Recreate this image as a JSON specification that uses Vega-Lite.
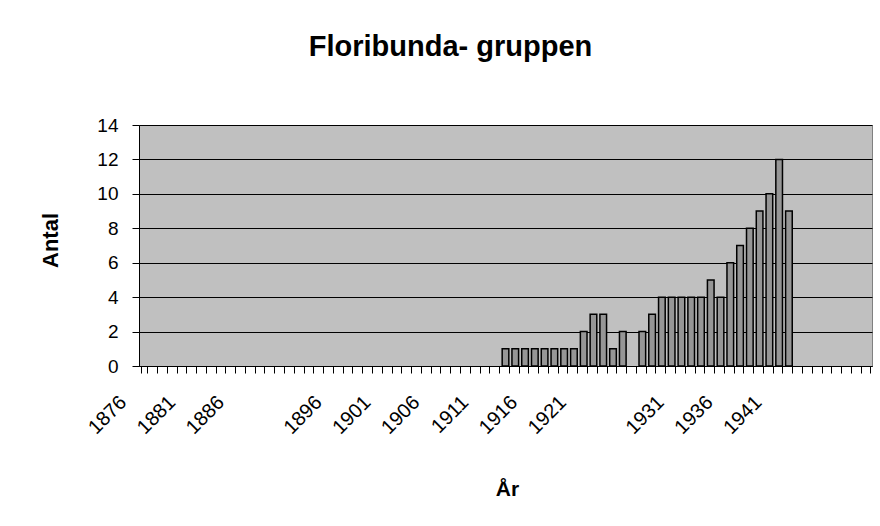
{
  "$schema": "https://vega.github.io/schema/vega-lite/v6.json",
  "autosize": {"type": "none"},
  "width": 733,
  "height": 241,
  "padding": {"left": 139, "top": 125, "right": 8, "bottom": 160},
  "background": "white",
  "title": {
    "text": "Floribunda- gruppen",
    "font": "Liberation Sans",
    "fontSize": 29,
    "fontWeight": "bold",
    "color": "black",
    "anchor": "middle",
    "frame": "group",
    "dx": -55,
    "offset": 54
  },
  "config": {
    "view": {"fill": "#C0C0C0", "stroke": "#808080", "strokeWidth": 1},
    "axis": {
      "labelFont": "Liberation Sans",
      "titleFont": "Liberation Sans",
      "labelColor": "black",
      "titleColor": "black",
      "domainColor": "black",
      "tickColor": "black",
      "gridColor": "black",
      "gridOpacity": 1
    }
  },
  "data": {
    "values": [
      {"year": 1876, "antal": 0}, {"year": 1877, "antal": 0}, {"year": 1878, "antal": 0}, {"year": 1879, "antal": 0},
      {"year": 1880, "antal": 0}, {"year": 1881, "antal": 0}, {"year": 1882, "antal": 0}, {"year": 1883, "antal": 0},
      {"year": 1884, "antal": 0}, {"year": 1885, "antal": 0}, {"year": 1886, "antal": 0}, {"year": 1887, "antal": 0},
      {"year": 1888, "antal": 0}, {"year": 1889, "antal": 0}, {"year": 1890, "antal": 0}, {"year": 1891, "antal": 0},
      {"year": 1892, "antal": 0}, {"year": 1893, "antal": 0}, {"year": 1894, "antal": 0}, {"year": 1895, "antal": 0},
      {"year": 1896, "antal": 0}, {"year": 1897, "antal": 0}, {"year": 1898, "antal": 0}, {"year": 1899, "antal": 0},
      {"year": 1900, "antal": 0}, {"year": 1901, "antal": 0}, {"year": 1902, "antal": 0}, {"year": 1903, "antal": 0},
      {"year": 1904, "antal": 0}, {"year": 1905, "antal": 0}, {"year": 1906, "antal": 0}, {"year": 1907, "antal": 0},
      {"year": 1908, "antal": 0}, {"year": 1909, "antal": 0}, {"year": 1910, "antal": 0}, {"year": 1911, "antal": 0},
      {"year": 1912, "antal": 0}, {"year": 1913, "antal": 1}, {"year": 1914, "antal": 1}, {"year": 1915, "antal": 1},
      {"year": 1916, "antal": 1}, {"year": 1917, "antal": 1}, {"year": 1918, "antal": 1}, {"year": 1919, "antal": 1},
      {"year": 1920, "antal": 1}, {"year": 1921, "antal": 2}, {"year": 1922, "antal": 3}, {"year": 1923, "antal": 3},
      {"year": 1924, "antal": 1}, {"year": 1925, "antal": 2}, {"year": 1926, "antal": 0}, {"year": 1927, "antal": 2},
      {"year": 1928, "antal": 3}, {"year": 1929, "antal": 4}, {"year": 1930, "antal": 4}, {"year": 1931, "antal": 4},
      {"year": 1932, "antal": 4}, {"year": 1933, "antal": 4}, {"year": 1934, "antal": 5}, {"year": 1935, "antal": 4},
      {"year": 1936, "antal": 6}, {"year": 1937, "antal": 7}, {"year": 1938, "antal": 8}, {"year": 1939, "antal": 9},
      {"year": 1940, "antal": 10}, {"year": 1941, "antal": 12}, {"year": 1942, "antal": 9}, {"year": 1943, "antal": 0},
      {"year": 1944, "antal": 0}, {"year": 1945, "antal": 0}, {"year": 1946, "antal": 0}, {"year": 1947, "antal": 0},
      {"year": 1948, "antal": 0}, {"year": 1949, "antal": 0}, {"year": 1950, "antal": 0}
    ]
  },
  "mark": {"type": "bar", "fill": "#969696", "stroke": "black"},
  "encoding": {
    "x": {
      "field": "year",
      "type": "ordinal",
      "sort": "ascending",
      "scale": {"paddingInner": 0.32, "paddingOuter": 0.16},
      "axis": {
        "title": "År",
        "titleFontSize": 21,
        "titleFontWeight": "bold",
        "titleX": 368,
        "titleY": 112,
        "labelAngle": -45,
        "labelAlign": "right",
        "labelBaseline": "middle",
        "labelFontSize": 20,
        "labelOverlap": false,
        "labelPadding": 26,
        "labelOffset": -21,
        "labelExpr": "indexof([1876,1881,1886,1896,1901,1906,1911,1916,1921,1931,1936,1941], datum.value) >= 0 ? datum.label : ''",
        "tickBand": "extent",
        "tickSize": 7,
        "grid": false
      }
    },
    "y": {
      "field": "antal",
      "type": "quantitative",
      "scale": {"domain": [0, 14], "nice": false},
      "axis": {
        "title": "Antal",
        "titleFontSize": 22,
        "titleFontWeight": "bold",
        "titleX": -89,
        "titleY": 115,
        "titleAlign": "center",
        "titleBaseline": "middle",
        "titleAngle": -90,
        "values": [0, 2, 4, 6, 8, 10, 12, 14],
        "labelFontSize": 19,
        "labelPadding": 14,
        "tickSize": 7,
        "grid": true
      }
    },
    "strokeWidth": {
      "condition": {"test": "datum.antal > 0", "value": 1.5},
      "value": 0
    }
  }
}
